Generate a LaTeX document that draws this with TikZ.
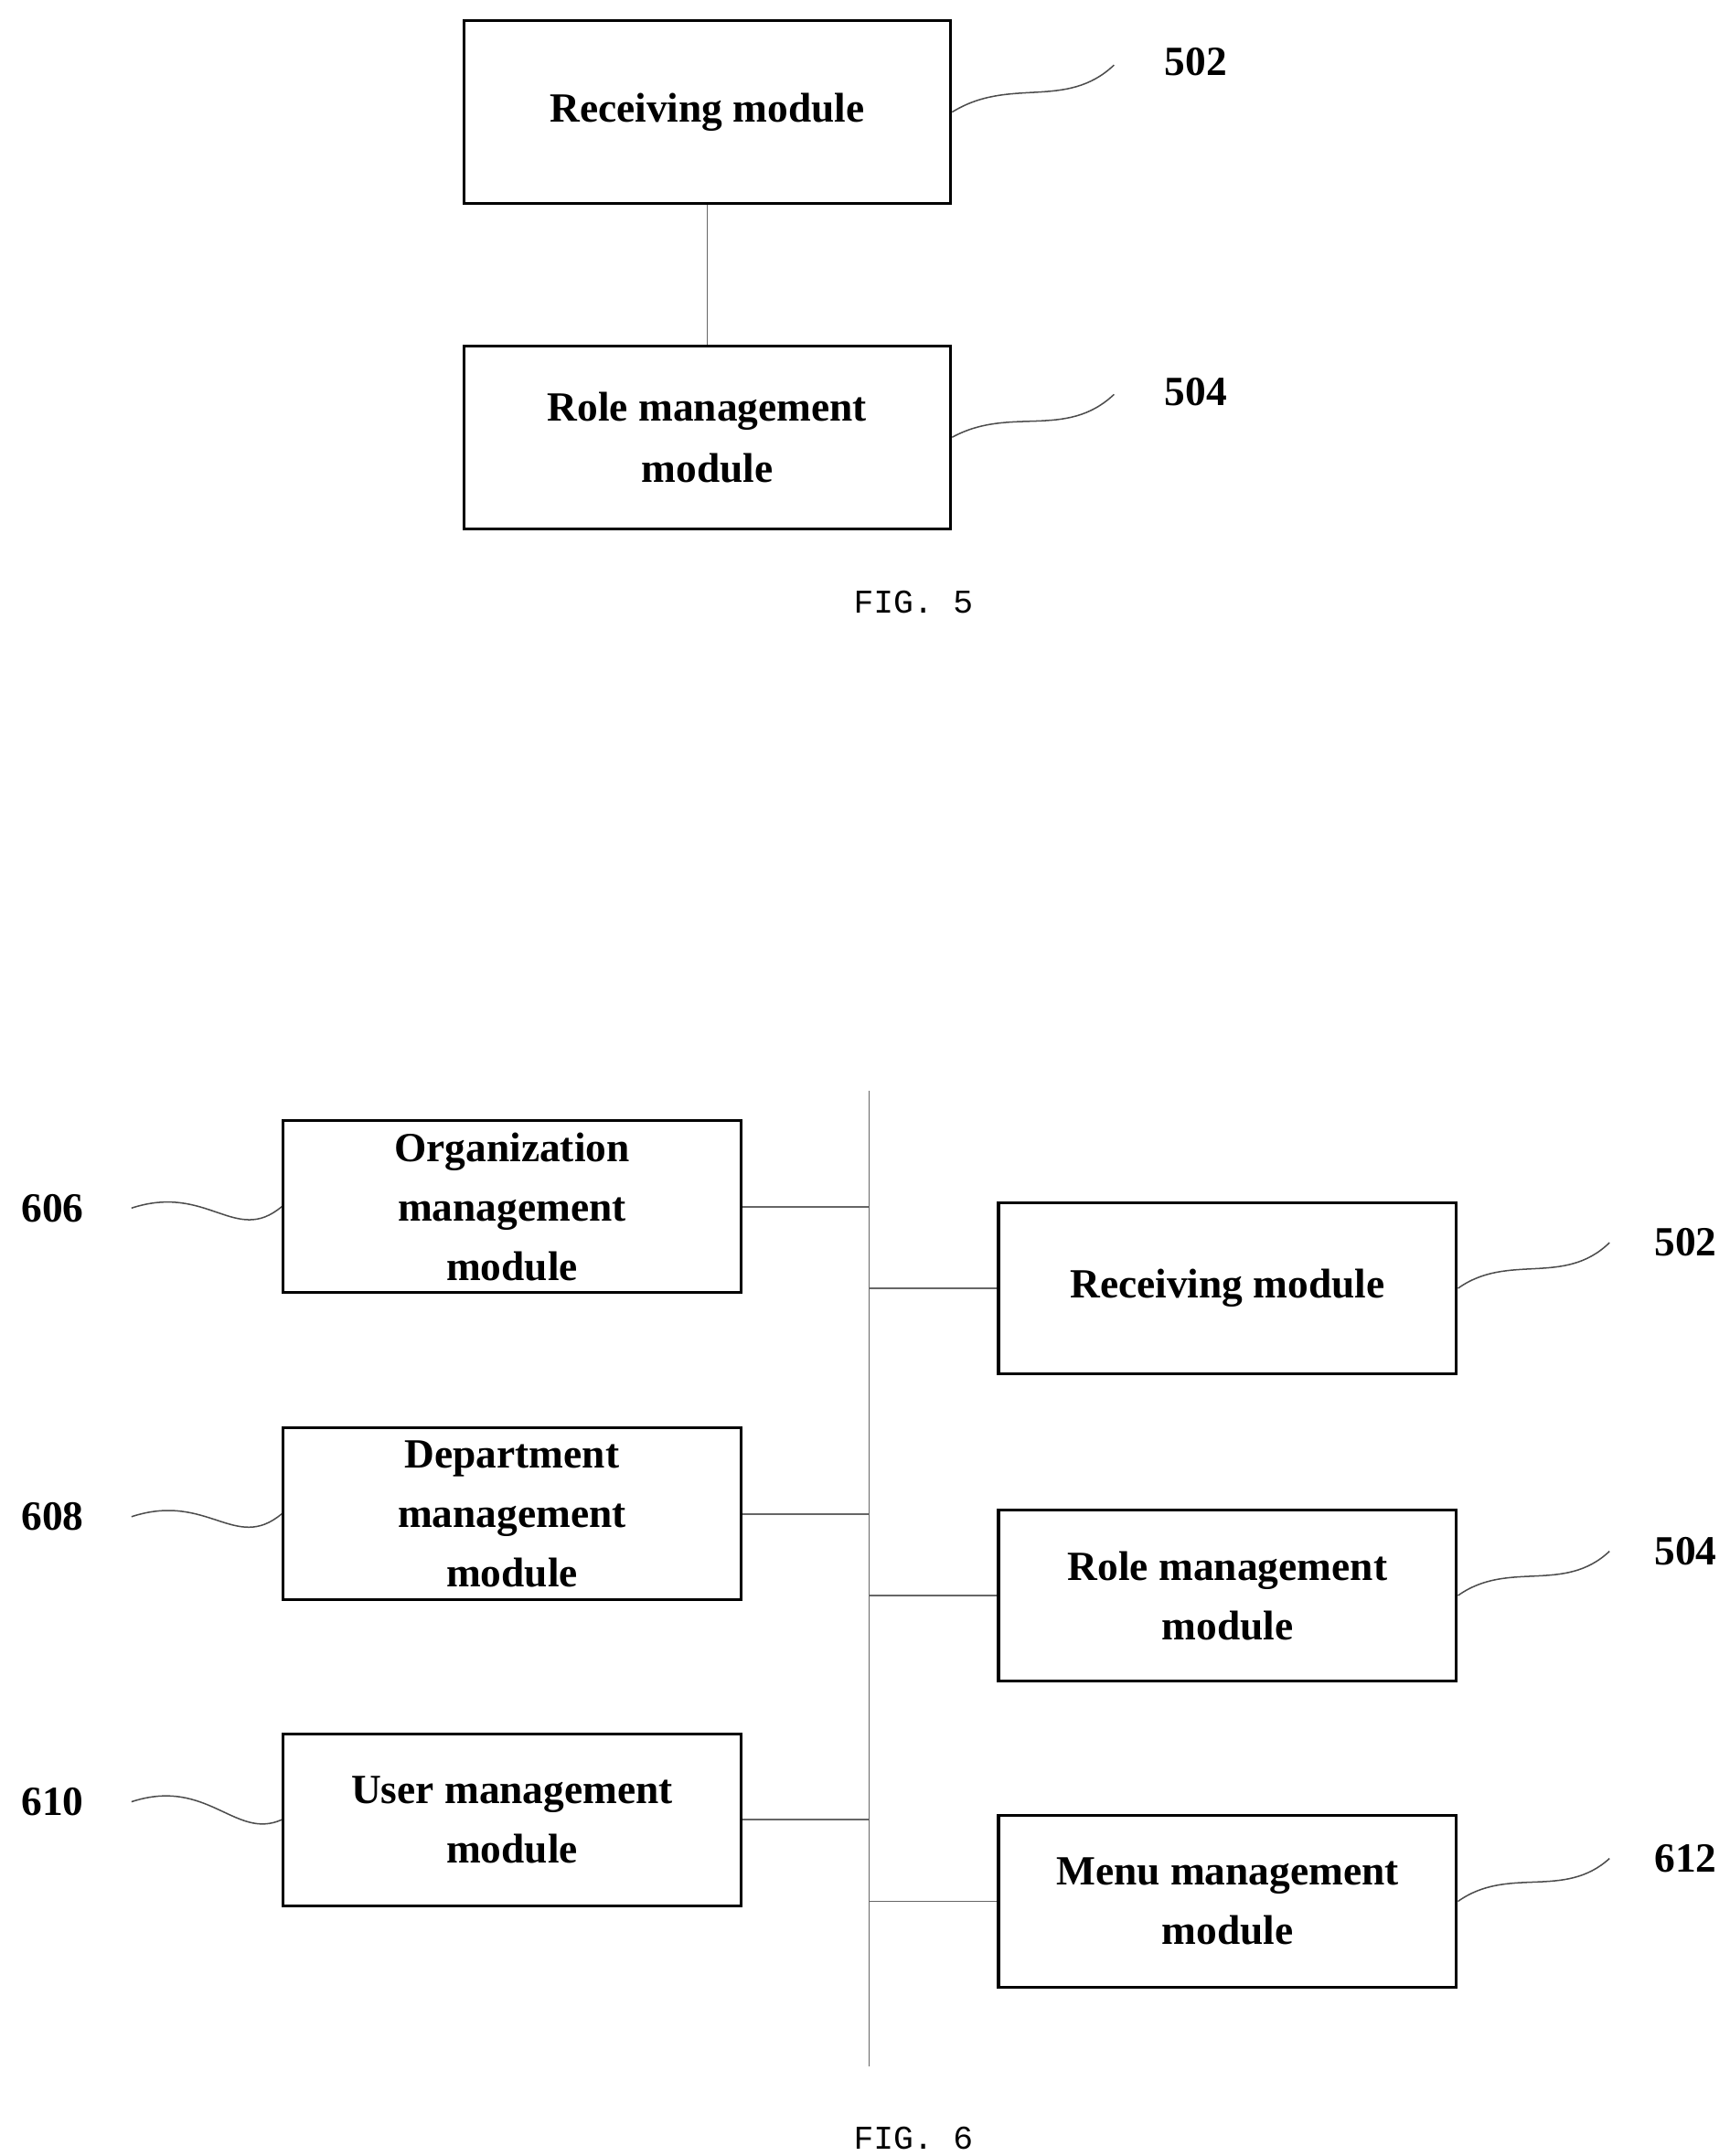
\documentclass[tikz,border=0pt]{standalone}
\usepackage{fontspec}
\setmainfont{Liberation Serif}
\setmonofont{Liberation Mono}
\begin{document}
\begin{tikzpicture}[x=1pt,y=-1pt,
 box/.style={draw,line width=2pt,minimum width=352pt,minimum height=132pt,align=center,font=\fontsize{30}{44}\selectfont\bfseries,inner sep=0pt},
 box6/.style={draw,line width=2pt,minimum width=331pt,minimum height=124pt,align=center,font=\fontsize{30}{43}\selectfont\bfseries,inner sep=0pt},
 lab/.style={font=\fontsize{30}{36}\selectfont\bfseries},
 figcap/.style={font=\fontsize{24}{28}\selectfont\ttfamily},
 conn/.style={draw=black!60,line width=1pt},
 sq/.style={draw=black!70,line width=1pt}]
\useasboundingbox (0,0) rectangle (1250,1558);
% FIG 5
\node[box] (r5) at (511,81) {Receiving module};
\node[box] (m5) at (511,316) {Role management\\module};
\draw[conn] (r5.south) -- (m5.north);
\node[lab] (l502a) at (864,45) {502};
\node[lab] (l504a) at (864,283) {504};
\coordinate (e502a) at (805,47);
\coordinate (e504a) at (805,285);
\draw[sq] (r5.east) .. controls (730,55) and (770,80) .. (e502a);
\draw[sq] (m5.east) .. controls (730,293) and (770,318) .. (e504a);
\node[figcap] (f5) at (660,435) {FIG. 5};
% FIG 6
\coordinate (bt) at (628,788);
\coordinate (bb) at (628,1493);
\draw[conn] (bt) -- (bb);
\node[box6] (o) at (370,872) {Organization\\management\\module};
\node[box6] (d) at (370,1094) {Department\\management\\module};
\node[box6] (u) at (370,1315) {User management\\module};
\node[box6] (r6) at (887,931) {Receiving module};
\node[box6] (m6) at (887,1153) {Role management\\module};
\node[box6] (mm) at (887,1374) {Menu management\\module};
\foreach \n in {o,d,u}{\draw[conn] (\n.east) -- (\n.east -| bt);}
\foreach \n in {r6,m6,mm}{\draw[conn] (\n.west) -- (\n.west -| bt);}
\node[lab] (l606) at (38,873) {606};
\node[lab] (l608) at (38,1096) {608};
\node[lab] (l610) at (38,1302) {610};
\node[lab] (l502) at (1218,898) {502};
\node[lab] (l504) at (1218,1121) {504};
\node[lab] (l612) at (1218,1343) {612};
\coordinate (s606) at (95,873);
\coordinate (s608) at (95,1096);
\coordinate (s610) at (95,1302);
\coordinate (s502) at (1163,898);
\coordinate (s504) at (1163,1121);
\coordinate (s612) at (1163,1343);
\draw[sq] (s606) .. controls (150,855) and (170,900) .. (o.west);
\draw[sq] (s608) .. controls (150,1078) and (170,1122) .. (d.west);
\draw[sq] (s610) .. controls (150,1284) and (170,1330) .. (u.west);
\draw[sq] (r6.east) .. controls (1090,905) and (1130,930) .. (s502);
\draw[sq] (m6.east) .. controls (1090,1127) and (1130,1152) .. (s504);
\draw[sq] (mm.east) .. controls (1090,1348) and (1130,1373) .. (s612);
\node[figcap] (f6) at (660,1545) {FIG. 6};
\end{tikzpicture}
\end{document}
